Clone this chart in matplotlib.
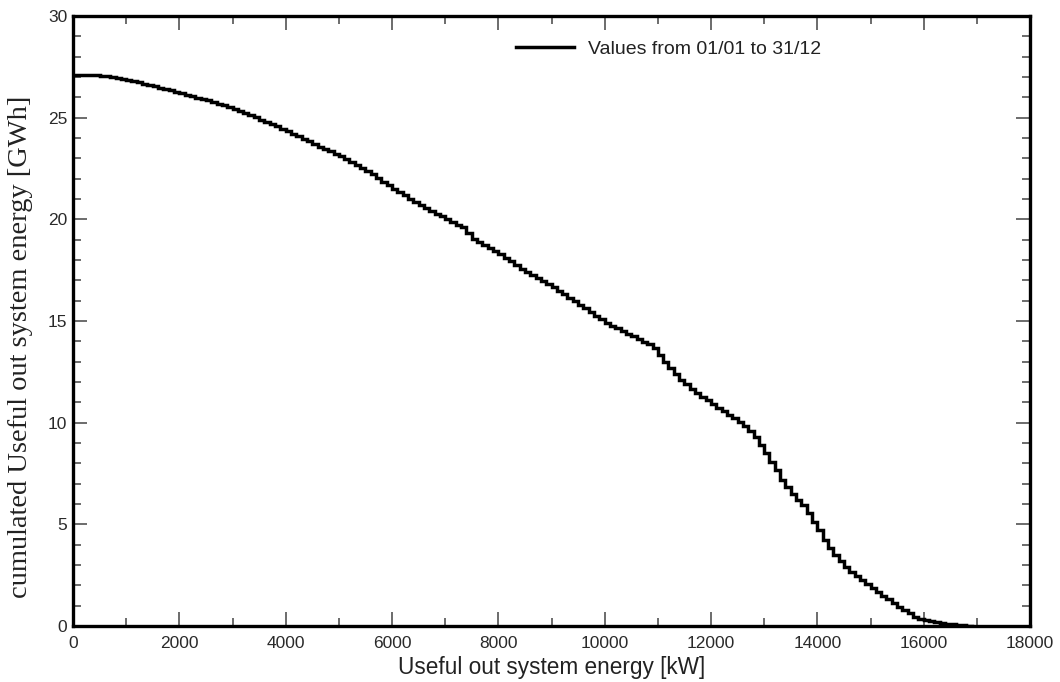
import matplotlib
matplotlib.use("Agg")
import matplotlib.pyplot as plt
from matplotlib.ticker import MultipleLocator

# Threshold power [kW] (100 kW bins) and cumulated energy above it [GWh]
power_kw = list(range(0, 17000, 100))
cumulated_gwh = [
    27.10, 27.10, 27.09, 27.09, 27.08, 27.07, 27.03, 26.99, 26.94, 26.90,
    26.85, 26.79, 26.73, 26.67, 26.61, 26.55, 26.48, 26.41, 26.34, 26.27,
    26.20, 26.13, 26.06, 25.99, 25.92, 25.85, 25.77, 25.69, 25.61, 25.53,
    25.45, 25.34, 25.23, 25.12, 25.01, 24.90, 24.79, 24.68, 24.57, 24.46,
    24.35, 24.22, 24.09, 23.96, 23.83, 23.70, 23.58, 23.46, 23.34, 23.22,
    23.10, 22.96, 22.82, 22.68, 22.54, 22.40, 22.22, 22.04, 21.86, 21.68,
    21.50, 21.34, 21.18, 21.02, 20.86, 20.70, 20.56, 20.42, 20.28, 20.14,
    20.00, 19.87, 19.73, 19.60, 19.32, 19.05, 18.90, 18.75, 18.60, 18.45,
    18.30, 18.12, 17.94, 17.76, 17.58, 17.40, 17.25, 17.10, 16.95, 16.80,
    16.65, 16.48, 16.31, 16.14, 15.97, 15.80, 15.62, 15.44, 15.26, 15.08,
    14.90, 14.77, 14.64, 14.51, 14.38, 14.25, 14.12, 13.99, 13.85, 13.65,
    13.35, 13.00, 12.70, 12.40, 12.12, 11.90, 11.68, 11.48, 11.28, 11.10,
    10.90, 10.72, 10.55, 10.38, 10.22, 10.05, 9.82, 9.58, 9.30, 8.92,
    8.50, 8.08, 7.65, 7.20, 6.85, 6.50, 6.22, 5.95, 5.55, 5.12,
    4.70, 4.25, 3.85, 3.50, 3.18, 2.90, 2.68, 2.47, 2.26, 2.05,
    1.85, 1.67, 1.49, 1.31, 1.13, 0.95, 0.78, 0.62, 0.46, 0.36,
    0.28, 0.23, 0.19, 0.15, 0.11, 0.08, 0.06, 0.04, 0.02, 0.00,
]

series_label = "Values from 01/01 to 31/12"
x_label = "Useful out system energy [kW]"
y_label = "cumulated Useful out system energy [GWh]"

fig = plt.figure(figsize=(10.6, 6.82), dpi=100)
ax = fig.add_axes([73 / 1060, 1 - 626 / 682, 957 / 1060, 610 / 682])

ax.step(power_kw, cumulated_gwh, where="post", color="black", lw=2.5,
        label=series_label, solid_joinstyle="miter")

ax.set_xlim(0, 18000)
ax.set_ylim(0, 30)
ax.xaxis.set_major_locator(MultipleLocator(2000))
ax.xaxis.set_minor_locator(MultipleLocator(1000))
ax.yaxis.set_major_locator(MultipleLocator(5))
ax.yaxis.set_minor_locator(MultipleLocator(1))

for s in ax.spines.values():
    s.set_linewidth(2.4)
    s.set_color("black")

ax.tick_params(which="both", direction="in", top=True, right=True,
               color="#444444", width=1.1,
               labelsize=12.5, labelcolor="#2a2a2a")
ax.tick_params(axis="x", which="major", length=10, pad=7)
ax.tick_params(axis="y", which="major", length=10, pad=4)
ax.tick_params(which="minor", length=6)

for lab in ax.get_xticklabels() + ax.get_yticklabels():
    lab.set_family(["Liberation Sans", "DejaVu Sans"])

ax.set_xlabel(x_label, fontsize=16.3, family=["Liberation Sans", "DejaVu Sans"],
              color="#222222", labelpad=4)
ax.set_ylabel(y_label, fontsize=20.5, family=["Liberation Serif", "DejaVu Serif"],
              color="#222222")
ax.yaxis.set_label_coords(-0.042, 0.457)

leg = ax.legend(loc="center", bbox_to_anchor=(0.622, 0.946), frameon=False,
                handlelength=3.0, handletextpad=0.7,
                prop={"family": ["Liberation Sans", "DejaVu Sans"], "size": 14})
for t in leg.get_texts():
    t.set_color("#222222")

fig.savefig("out.png", dpi=100, facecolor="white")
